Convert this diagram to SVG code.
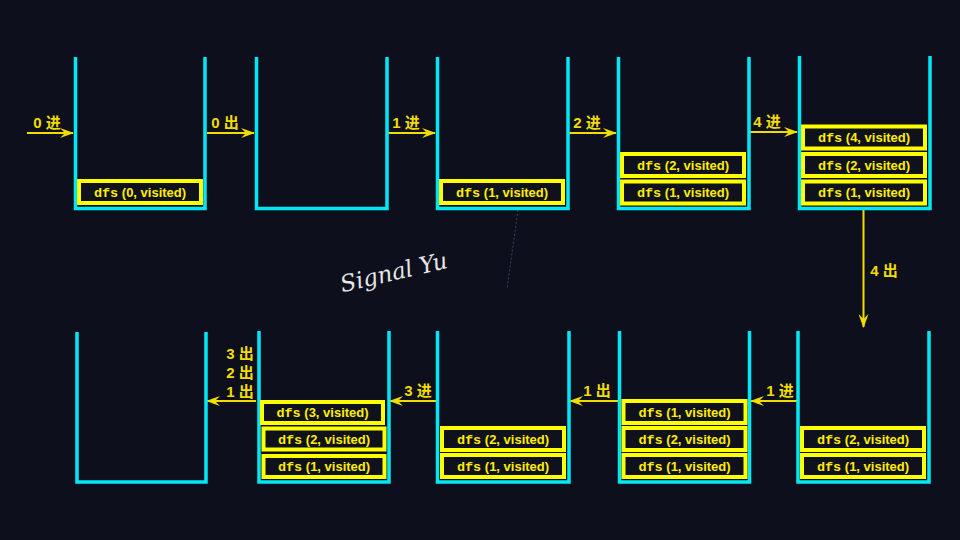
<svg xmlns="http://www.w3.org/2000/svg" width="960" height="540" viewBox="0 0 960 540">
<style>
.bg{fill:#0d101c}
.cont{fill:none;stroke:#00e8f8;stroke-width:3.5;stroke-linejoin:miter}
.box{fill:#0f121c;stroke:#ffff00;stroke-width:4}
.bt{font-family:"Liberation Sans",Arial,sans-serif;font-weight:bold;font-size:13px;fill:#ffee00;text-anchor:middle}
text.bt tspan.m{font-family:"Liberation Mono","Courier New",monospace;font-weight:bold;font-size:13.5px}
.lbl{font-family:"Liberation Sans","Noto Sans CJK SC",sans-serif;font-weight:bold;font-size:15px;fill:#f2dc00;text-anchor:middle}
.arr{stroke:#f2dc00;stroke-width:2;fill:none;marker-end:url(#ah)}
.sig{font-family:"DejaVu Serif","Liberation Serif",serif;font-style:italic;font-size:23px;fill:#e6e6e6}
</style>
<defs>
<marker id="ah" viewBox="0 0 14 10" markerWidth="14" markerHeight="10" refX="13" refY="5" orient="auto" markerUnits="userSpaceOnUse">
<path d="M0,0 L14,5 L0,10 L5,5 z" fill="#f2dc00"/>
</marker>
</defs>
<rect class="bg" x="0" y="0" width="960" height="540"/>

<line x1="518" y1="210" x2="507" y2="289" stroke="#3a4458" stroke-width="1" stroke-dasharray="2 2"/>
<text class="sig" x="338" y="282" transform="rotate(-13 385 268)">Signal Yu</text>

<g id="connectors">
<line class="arr" x1="27" y1="133" x2="73" y2="133"/>
<line class="arr" x1="207" y1="133" x2="254" y2="133"/>
<line class="arr" x1="388" y1="133" x2="435" y2="133"/>
<line class="arr" x1="569" y1="133" x2="616" y2="133"/>
<line class="arr" x1="750" y1="132" x2="797" y2="132"/>
<line class="arr" x1="863.5" y1="210" x2="863.5" y2="327"/>
<line class="arr" x1="797" y1="401" x2="751" y2="401"/>
<line class="arr" x1="618" y1="401" x2="570" y2="401"/>
<line class="arr" x1="436" y1="401" x2="390" y2="401"/>
<line class="arr" x1="256" y1="401" x2="207" y2="401"/>
<text class="lbl" x="47" y="128">0 进</text>
<text class="lbl" x="225" y="128">0 出</text>
<text class="lbl" x="406" y="128">1 进</text>
<text class="lbl" x="587" y="128">2 进</text>
<text class="lbl" x="767" y="127">4 进</text>
<text class="lbl" x="884" y="276">4 出</text>
<text class="lbl" x="780" y="396">1 进</text>
<text class="lbl" x="597" y="396">1 出</text>
<text class="lbl" x="418" y="396">3 进</text>
<text class="lbl" x="240" y="358.5">3 出</text>
<text class="lbl" x="240" y="377.5">2 出</text>
<text class="lbl" x="240" y="397">1 出</text>
</g>

<g id="stack-t1">
<path class="cont" d="M75.5,57 V208.5 H205 V57"/>
<rect class="box" x="79" y="181" width="122" height="22"/>
<text class="bt" x="140" y="196.5"><tspan class="m">dfs</tspan> (0, visited)</text>
</g>
<g id="stack-t2">
<path class="cont" d="M256.5,57 V208.5 H387 V57"/>
</g>
<g id="stack-t3">
<path class="cont" d="M437.5,57 V208.5 H568 V57"/>
<rect class="box" x="441" y="181" width="122" height="22"/>
<text class="bt" x="502" y="196.5"><tspan class="m">dfs</tspan> (1, visited)</text>
</g>
<g id="stack-t4">
<path class="cont" d="M618.5,57 V208.5 H749 V57"/>
<rect class="box" x="622" y="154" width="122" height="22"/>
<text class="bt" x="683" y="169.5"><tspan class="m">dfs</tspan> (2, visited)</text>
<rect class="box" x="622" y="181.5" width="122" height="22"/>
<text class="bt" x="683" y="197"><tspan class="m">dfs</tspan> (1, visited)</text>
</g>
<g id="stack-t5">
<path class="cont" d="M799.5,56 V208.5 H930 V56"/>
<rect class="box" x="803" y="126.5" width="122" height="22"/>
<text class="bt" x="864" y="142"><tspan class="m">dfs</tspan> (4, visited)</text>
<rect class="box" x="803" y="154" width="122" height="22"/>
<text class="bt" x="864" y="169.5"><tspan class="m">dfs</tspan> (2, visited)</text>
<rect class="box" x="803" y="181.5" width="122" height="22"/>
<text class="bt" x="864" y="197"><tspan class="m">dfs</tspan> (1, visited)</text>
</g>

<g id="stack-b5">
<path class="cont" d="M798,331 V482 H929 V331"/>
<rect class="box" x="802" y="428" width="122" height="22"/>
<text class="bt" x="863" y="443.5"><tspan class="m">dfs</tspan> (2, visited)</text>
<rect class="box" x="802" y="455" width="122" height="22"/>
<text class="bt" x="863" y="470.5"><tspan class="m">dfs</tspan> (1, visited)</text>
</g>
<g id="stack-b4">
<path class="cont" d="M619.5,331 V482 H749.5 V331"/>
<rect class="box" x="623.5" y="401" width="122" height="22"/>
<text class="bt" x="684.5" y="416.5"><tspan class="m">dfs</tspan> (1, visited)</text>
<rect class="box" x="623.5" y="428" width="122" height="22"/>
<text class="bt" x="684.5" y="443.5"><tspan class="m">dfs</tspan> (2, visited)</text>
<rect class="box" x="623.5" y="455" width="122" height="22"/>
<text class="bt" x="684.5" y="470.5"><tspan class="m">dfs</tspan> (1, visited)</text>
</g>
<g id="stack-b3">
<path class="cont" d="M437.5,331 V482 H569 V331"/>
<rect class="box" x="442" y="428" width="122" height="22"/>
<text class="bt" x="503" y="443.5"><tspan class="m">dfs</tspan> (2, visited)</text>
<rect class="box" x="442" y="455" width="122" height="22"/>
<text class="bt" x="503" y="470.5"><tspan class="m">dfs</tspan> (1, visited)</text>
</g>
<g id="stack-b2">
<path class="cont" d="M259,331 V482 H389 V331"/>
<rect class="box" x="262" y="402" width="121" height="21"/>
<text class="bt" x="322.5" y="417"><tspan class="m">dfs</tspan> (3, visited)</text>
<rect class="box" x="263.5" y="428.5" width="121" height="21"/>
<text class="bt" x="324" y="443.5"><tspan class="m">dfs</tspan> (2, visited)</text>
<rect class="box" x="263.5" y="456" width="121" height="21"/>
<text class="bt" x="324" y="471"><tspan class="m">dfs</tspan> (1, visited)</text>
</g>
<g id="stack-b1">
<path class="cont" d="M77,332 V482 H206 V332"/>
</g>
</svg>
